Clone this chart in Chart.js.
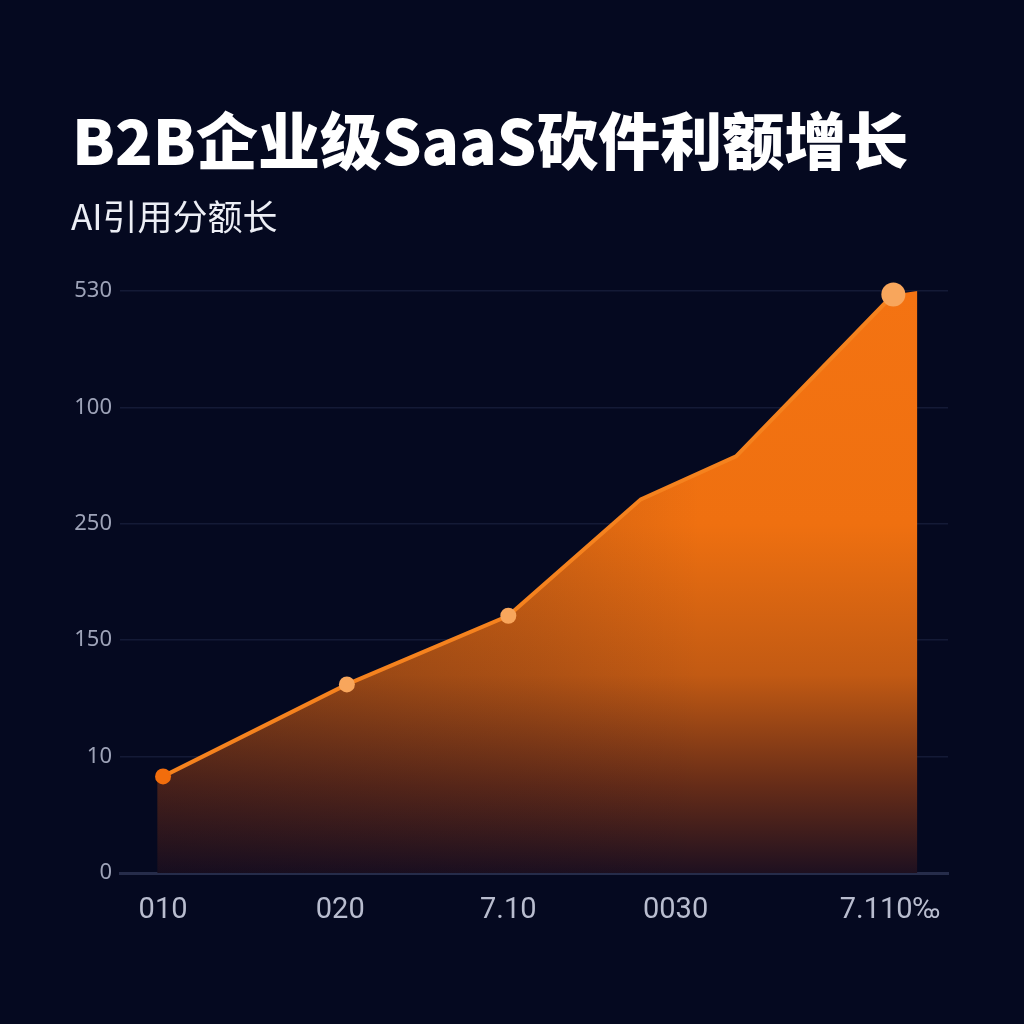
<!DOCTYPE html>
<html>
<head>
<meta charset="utf-8">
<script src="https://cdn.jsdelivr.net/npm/chart.js@4.4.1/dist/chart.umd.min.js"></script>
<style>
  html,body{margin:0;padding:0;background:#050920;width:1024px;height:1024px;overflow:hidden;}
  #wrap{position:relative;width:1024px;height:1024px;}
  #title{position:absolute;left:72px;top:96px;font-family:"Noto Sans CJK SC","Noto Sans",sans-serif;font-weight:900;font-size:62px;line-height:84px;color:#ffffff;white-space:nowrap;}
  #subtitle{position:absolute;left:71px;top:192px;font-family:"Noto Sans CJK SC","Noto Sans",sans-serif;font-weight:400;font-size:35px;line-height:46px;color:#eceef5;white-space:nowrap;}
  canvas{position:absolute;left:0;top:0;}
</style>
</head>
<body>
<div id="wrap">
  <canvas id="c" width="1024" height="1024"></canvas>
  <div id="title">B2B企业级SaaS砍件利额增长</div>
  <div id="subtitle">AI引用分额长</div>
</div>
<script>
// ---- data ----
const xTickLabels = ["010", "020", "7.10", "0030", "7.110‰"];
const xTickValues = [5.2, 26.6, 46.9, 67.1, 93.0];
const yTickLabels = ["0", "10", "150", "250", "100", "530"];
const seriesX = [5.2, 27.4, 46.9, 62.9, 74.4, 93.4];
const seriesY = [0.83, 1.62, 2.21, 3.21, 3.58, 4.97];
const areaX = [4.5, 5.2, 27.4, 46.9, 62.9, 74.4, 93.4, 96.3];
const areaY = [0.83, 0.83, 1.62, 2.21, 3.21, 3.58, 4.97, 5.0];

const linePts = seriesX.map((x, i) => ({x: x, y: seriesY[i]}));
const areaPts = areaX.map((x, i) => ({x: x, y: areaY[i]}));

function vGrad(ctx) {
  const chart = ctx.chart;
  const a = chart.chartArea;
  if (!a) return 'rgba(240,112,16,0.8)';
  const g = chart.ctx.createLinearGradient(0, a.top, 0, a.bottom);
  g.addColorStop(0, '#f47312');
  g.addColorStop(0.4, '#ef7010');
  g.addColorStop(0.66, '#c25a13');
  g.addColorStop(0.85, '#662c18');
  g.addColorStop(1, '#1e1020');
  return g;
}
function hShade(ctx) {
  const chart = ctx.chart;
  const a = chart.chartArea;
  if (!a) return 'rgba(0,0,0,0)';
  const g = chart.ctx.createLinearGradient(a.left, 0, a.right, 0);
  g.addColorStop(0, 'rgba(8,8,30,0.36)');
  g.addColorStop(0.5, 'rgba(8,8,30,0.12)');
  g.addColorStop(0.7, 'rgba(8,8,30,0)');
  g.addColorStop(1, 'rgba(8,8,30,0)');
  return g;
}

const ptColors = ['#f26d0c', '#f8a65c', '#f8a65c', '#f8a65c', '#f8a65c', '#f8a65c'];
const ptRadius = [8, 8, 8, 0, 0, 12];

new Chart(document.getElementById('c'), {
  type: 'line',
  data: {
    datasets: [
      {
        data: linePts,
        order: 0,
        borderColor: '#f5821e',
        borderWidth: 4,
        fill: false,
        tension: 0,
        pointRadius: ptRadius,
        pointBackgroundColor: ptColors,
        pointBorderWidth: 0,
        clip: false
      },
      {
        data: areaPts,
        order: 1,
        borderWidth: 0,
        pointRadius: 0,
        fill: 'origin',
        backgroundColor: hShade,
        tension: 0
      },
      {
        data: areaPts,
        order: 2,
        borderWidth: 0,
        pointRadius: 0,
        fill: 'origin',
        backgroundColor: vGrad,
        tension: 0
      }
    ]
  },
  options: {
    responsive: false,
    animation: false,
    events: [],
    layout: { padding: { left: 0, right: 76, top: 291, bottom: 0 } },
    plugins: { legend: { display: false }, tooltip: { enabled: false } },
    scales: {
      x: {
        type: 'linear',
        min: 0,
        max: 100,
        afterBuildTicks: (s) => { s.ticks = xTickValues.map(v => ({value: v})); },
        afterFit: (s) => { s.height = 151; },
        ticks: {
          autoSkip: false,
          maxRotation: 0,
          padding: 20,
          color: '#b9bdcf',
          font: { family: 'Roboto, sans-serif', size: 29 },
          callback: (v, i) => xTickLabels[i]
        },
        grid: { display: false, drawTicks: false },
        border: { display: true, color: '#262c4a', width: 3 }
      },
      y: {
        type: 'linear',
        min: 0,
        max: 5,
        afterBuildTicks: (s) => { s.ticks = yTickLabels.map((_, i) => ({value: i})); },
        afterFit: (s) => { s.width = 120; },
        ticks: {
          autoSkip: false,
          padding: 8,
          color: '#9ea3b8',
          font: { family: '"Noto Sans", sans-serif', size: 22 },
          callback: (v, i) => yTickLabels[i]
        },
        grid: { color: '#141a36', lineWidth: 1.5, drawTicks: false },
        border: { display: false }
      }
    }
  }
});
</script>
</body>
</html>
